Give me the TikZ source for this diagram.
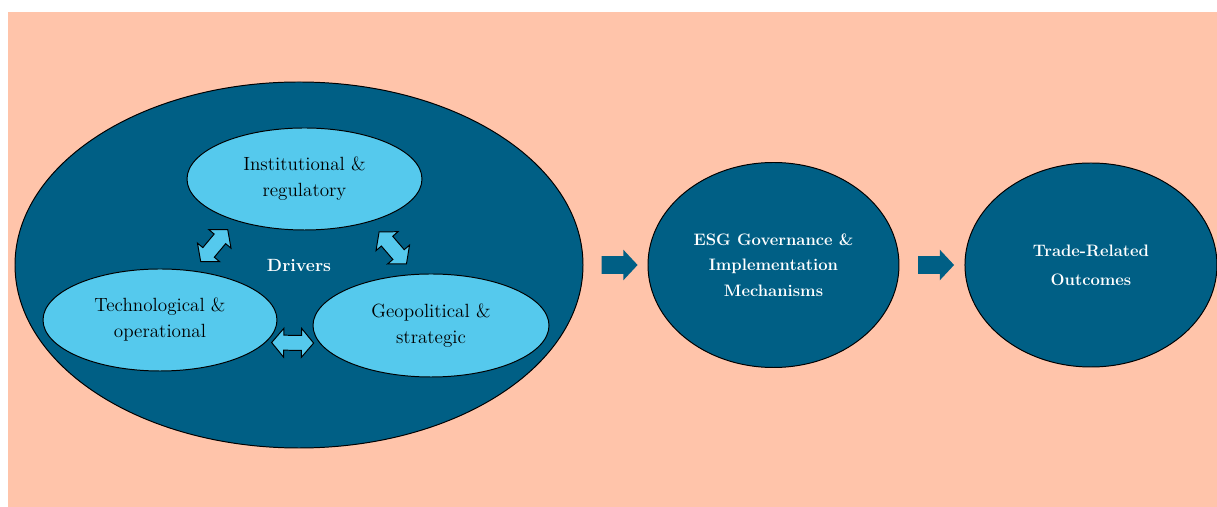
\documentclass[tikz,border=0pt]{standalone}
\usepackage{xcolor}
\usepackage{tikz}
\usetikzlibrary{calc}
\usetikzlibrary{positioning}
\usetikzlibrary{shapes.geometric}
\usetikzlibrary{shapes.arrows}

\definecolor{Peach}{HTML}{FFC4AA}
\definecolor{Ocean}{HTML}{005F85}
\definecolor{Sky}{HTML}{55C9ED}

\begin{document}
\begin{tikzpicture}
[
	Driver/.style	= {ellipse, draw = black, line width = 0.7pt, fill = Sky, inner sep = 0cm, minimum width = 5.875cm, minimum height = 2.55cm, align = center, font = \fontsize{13.6}{18.5}\selectfont},
	Stage/.style	= {ellipse, draw = black, line width = 0.7pt, fill = Ocean, inner sep = 0cm, align = center, text = white, font = \bfseries\fontsize{11.8}{18}\selectfont},
	Link/.style		= {double arrow, draw = black, line width = 0.7pt, fill = Sky, inner xsep = 0cm, inner ysep = 0.175cm, minimum width = 0cm, minimum height = 1.05cm, double arrow head extend = 0.175cm, double arrow tip angle = 100, sloped},
	Flow/.style		= {single arrow, fill = Ocean, inner xsep = 0cm, inner ysep = 0.2125cm, minimum width = 0cm, minimum height = 0.9cm, single arrow head extend = 0.1625cm, single arrow tip angle = 94, sloped},
]
	\useasboundingbox (0,0) rectangle (30.425,12.675);
	\fill [Peach] (0.2,0) rectangle (30.425,12.375);

	% drivers cluster
	\node (drivers) [Stage, minimum width = 14.2cm, minimum height = 9.15cm, font = \bfseries\fontsize{12.6}{14}\selectfont] at (7.475,6.05) {Drivers};
	\node (inst) [Driver] at (7.6125,8.2) {Institutional \& \\ regulatory};
	\node (tech) [Driver, minimum width = 5.85cm] at (4.0,4.675) {Technological \& \\ operational};
	\node (geo)  [Driver, minimum width = 5.9cm, minimum height = 2.575cm] at (10.775,4.5375) {Geopolitical \& \\ strategic};

	% mutual links between drivers
	\path (inst.211) -- node (l1) [Link] {} (tech.56);
	\path (inst.-33) -- node (l2) [Link] {} (geo.107);
	\path (tech.-12) -- node (l3) [Link] {} (geo.189);

	% governance and outcomes
	\node (esg)   [Stage, right = 1.6cm of drivers, minimum width = 6.275cm, minimum height = 5.125cm] {ESG Governance \& \\ Implementation \\ Mechanisms};
	\node (trade) [Stage, right = 1.625cm of esg, minimum width = 6.3cm, minimum height = 5.1cm, font = \bfseries\fontsize{11.8}{20.5}\selectfont] {Trade-Related \\ Outcomes};

	\path (drivers.east) -- node (f1) [Flow] {} (esg.west);
	\path (esg.east) -- node (f2) [Flow] {} (trade.west);
\end{tikzpicture}
\end{document}
